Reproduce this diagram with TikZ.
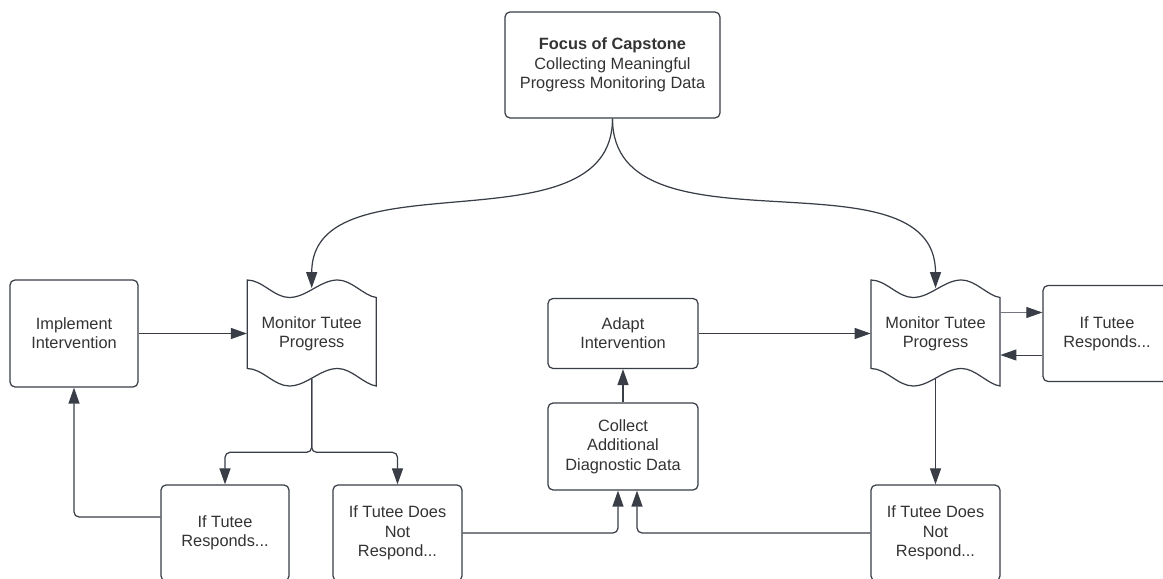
\documentclass[tikz,border=0pt]{standalone}
\usepackage{fontspec}
\setmainfont{Liberation Sans}
\usepackage{xcolor}
\definecolor{figline}{RGB}{56,61,70}
\definecolor{figtext}{RGB}{51,51,51}
\usepackage{tikz}
\usetikzlibrary{arrows.meta,calc}

\begin{document}
\begin{tikzpicture}[x=1cm,y=1cm,font=\fontsize{9.3}{11}\selectfont,text=figtext,
  >={Triangle[length=3.2mm,width=2.2mm]},
  box/.style={draw=figline,fill=white,rounded corners=1mm,line width=0.7pt,
    minimum width=2.56cm,minimum height=1.92cm,align=center,inner sep=1pt},
  wavy/.style={minimum width=2.58cm,minimum height=1.8cm,align=center,inner sep=0pt},
  ln/.style={->,figline,line width=0.7pt,rounded corners=1mm},
  fine/.style={-{Triangle[length=3.2mm,width=2.2mm,color=figline]},figline!70,line width=0.45pt}]
\useasboundingbox (0,0) rectangle (23.26,11.58);
\clip (0,0) rectangle (23.26,11.58);
\node[box,minimum width=4.3cm,minimum height=2.12cm] (focus) at (12.25,10.28)
  {\textbf{Focus of Capstone}\\Collecting Meaningful\\Progress Monitoring Data};
\node[box,minimum height=2.14cm] (impl) at (1.48,4.91) {Implement\\Intervention};
\node[wavy] (mon1) at (6.234,4.91) {Monitor Tutee\\Progress};
\node[box,minimum width=3cm,minimum height=1.4cm] (adapt) at (12.46,4.91) {Adapt\\Intervention};
\node[box,minimum width=3cm,minimum height=1.74cm] (collect) at (12.46,2.65) {Collect\\Additional\\Diagnostic Data};
\node[box] (resp1)  at (4.5,0.92)   {If Tutee\\Responds...};
\node[box,minimum width=2.58cm] (nresp1) at (7.95,0.92) {If Tutee Does\\Not\\Respond...};
\node[wavy] (mon2) at (18.71,4.91) {Monitor Tutee\\Progress};
\node[box] (resp2)  at (22.14,4.91) {If Tutee\\Responds...};
\node[box,minimum width=2.58cm] (nresp2) at (18.71,0.92) {If Tutee Does\\Not\\Respond...};
% wavy outline of the monitor nodes
\foreach \m in {mon1,mon2}
  \draw[figline,line width=0.7pt,shift={(\m.center)}]
    (-1.29,1.07) .. controls (-0.99,1.07) and (-0.75,0.72) .. (-0.45,0.72)
    .. controls (-0.10,0.72) and (0.17,1.07) .. (0.52,1.07)
    .. controls (0.80,1.07) and (1.05,0.75) .. (1.29,0.72)
    -- (1.29,-1.05)
    .. controls (1.05,-1.02) and (0.80,-0.70) .. (0.52,-0.70)
    .. controls (0.17,-0.70) and (-0.10,-1.05) .. (-0.45,-1.05)
    .. controls (-0.75,-1.05) and (-0.99,-0.70) .. (-1.29,-0.70) -- cycle;
\draw[ln] (focus.south) to[out=-90,in=90] (mon1.north);
\draw[ln] (focus.south) to[out=-90,in=90] (mon2.north);
\draw[ln] (impl.east) -- (mon1.west);
\draw[ln] (mon1.south) -- ++(0,-1.47) -| (resp1.north);
\draw[ln] (mon1.south) -- ++(0,-1.47) -| (nresp1.north);
\draw[ln] ([yshift=3.2mm]resp1.west) -| (impl.south);
\draw[ln] (nresp1.east) -| ([xshift=-1mm]collect.south);
\draw[ln] (nresp2.west) -| ([xshift=2.8mm]collect.south);
\draw[ln] (collect.north) -- (adapt.south);
\draw[ln] (adapt.east) -- (mon2.west);
\draw[ln] (mon2.south) -- (nresp2.north);
\draw[fine] ([yshift=4.2mm]mon2.east) -- ([yshift=4.2mm]resp2.west);
\draw[ln,line width=0.55pt] ([yshift=-4.3mm]resp2.west) -- ([yshift=-4.3mm]mon2.east);
\end{tikzpicture}
\end{document}
